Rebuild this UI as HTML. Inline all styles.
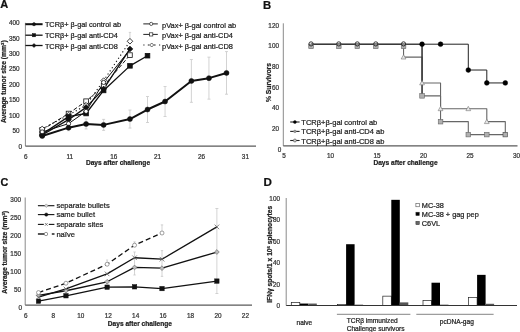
<!DOCTYPE html>
<html><head><meta charset="utf-8"><style>
html,body{margin:0;padding:0;background:#fff;width:520px;height:332px;overflow:hidden}
svg{display:block}
text{font-family:"Liberation Sans",sans-serif;stroke:currentColor;stroke-width:0.22px}
svg{filter:blur(0.35px)}
</style></head><body>
<svg width="520" height="332" viewBox="0 0 520 332">
<rect width="520" height="332" fill="#fff"/>
<text x="0.2" y="8.2" font-size="11.0" text-anchor="start" font-weight="bold" fill="#111" color="#111">A</text>
<line x1="25.4" y1="22.8" x2="25.4" y2="146.1" stroke="#8a8a8a" stroke-width="1"/>
<line x1="25.4" y1="146.1" x2="256" y2="146.1" stroke="#5a5a5a" stroke-width="1.1"/>
<text x="22" y="149.26" font-size="6.4" text-anchor="end" fill="#333" color="#333">0</text>
<text x="19.6" y="132.89" font-size="6.4" text-anchor="end" fill="#333" color="#333">50</text>
<text x="19.6" y="117.51" font-size="6.4" text-anchor="end" fill="#333" color="#333">100</text>
<text x="19.6" y="102.14" font-size="6.4" text-anchor="end" fill="#333" color="#333">150</text>
<text x="19.6" y="86.76" font-size="6.4" text-anchor="end" fill="#333" color="#333">200</text>
<text x="19.6" y="71.39" font-size="6.4" text-anchor="end" fill="#333" color="#333">250</text>
<text x="19.6" y="56.01" font-size="6.4" text-anchor="end" fill="#333" color="#333">300</text>
<text x="19.6" y="40.64" font-size="6.4" text-anchor="end" fill="#333" color="#333">350</text>
<text x="19.6" y="25.26" font-size="6.4" text-anchor="end" fill="#333" color="#333">400</text>
<text x="25.9" y="159.26" font-size="6.4" text-anchor="middle" fill="#333" color="#333">6</text>
<text x="69.8" y="159.26" font-size="6.4" text-anchor="middle" fill="#333" color="#333">11</text>
<text x="113.7" y="159.26" font-size="6.4" text-anchor="middle" fill="#333" color="#333">16</text>
<text x="157.6" y="159.26" font-size="6.4" text-anchor="middle" fill="#333" color="#333">21</text>
<text x="201.5" y="159.26" font-size="6.4" text-anchor="middle" fill="#333" color="#333">26</text>
<text x="245.4" y="159.26" font-size="6.4" text-anchor="middle" fill="#333" color="#333">31</text>
<text x="118" y="164.9" font-size="6.6" text-anchor="middle" font-weight="bold" fill="#222" color="#222">Days after challenge</text>
<text x="0" y="0" font-size="6.75" font-weight="bold" text-anchor="middle" fill="#222" color="#222" transform="translate(5.7,81.7) rotate(-90)">Average tumor size (mm<tspan font-size="4.2" dy="-2.2">3</tspan><tspan dy="2.2">)</tspan></text>
<line x1="68.53" y1="124.66" x2="68.53" y2="130.66" stroke="#c8c8c8" stroke-width="0.8"/>
<line x1="67.03" y1="124.66" x2="70.03" y2="124.66" stroke="#c8c8c8" stroke-width="0.8"/>
<line x1="67.03" y1="130.66" x2="70.03" y2="130.66" stroke="#c8c8c8" stroke-width="0.8"/>
<line x1="86.08" y1="118.97" x2="86.08" y2="128.97" stroke="#c8c8c8" stroke-width="0.8"/>
<line x1="84.58" y1="118.97" x2="87.58" y2="118.97" stroke="#c8c8c8" stroke-width="0.8"/>
<line x1="84.58" y1="128.97" x2="87.58" y2="128.97" stroke="#c8c8c8" stroke-width="0.8"/>
<line x1="103.63" y1="119.39" x2="103.63" y2="130.39" stroke="#c8c8c8" stroke-width="0.8"/>
<line x1="102.13" y1="119.39" x2="105.13" y2="119.39" stroke="#c8c8c8" stroke-width="0.8"/>
<line x1="102.13" y1="130.39" x2="105.13" y2="130.39" stroke="#c8c8c8" stroke-width="0.8"/>
<line x1="129.96" y1="110.05" x2="129.96" y2="128.05" stroke="#c8c8c8" stroke-width="0.8"/>
<line x1="128.46" y1="110.05" x2="131.46" y2="110.05" stroke="#c8c8c8" stroke-width="0.8"/>
<line x1="128.46" y1="128.05" x2="131.46" y2="128.05" stroke="#c8c8c8" stroke-width="0.8"/>
<line x1="147.51" y1="96.52" x2="147.51" y2="122.52" stroke="#c8c8c8" stroke-width="0.8"/>
<line x1="146.01" y1="96.52" x2="149.01" y2="96.52" stroke="#c8c8c8" stroke-width="0.8"/>
<line x1="146.01" y1="122.52" x2="149.01" y2="122.52" stroke="#c8c8c8" stroke-width="0.8"/>
<line x1="165.06" y1="86.52" x2="165.06" y2="116.52" stroke="#c8c8c8" stroke-width="0.8"/>
<line x1="163.56" y1="86.52" x2="166.56" y2="86.52" stroke="#c8c8c8" stroke-width="0.8"/>
<line x1="163.56" y1="116.52" x2="166.56" y2="116.52" stroke="#c8c8c8" stroke-width="0.8"/>
<line x1="191.39" y1="59.52" x2="191.39" y2="102.32" stroke="#c8c8c8" stroke-width="0.8"/>
<line x1="189.89" y1="59.52" x2="192.89" y2="59.52" stroke="#c8c8c8" stroke-width="0.8"/>
<line x1="189.89" y1="102.32" x2="192.89" y2="102.32" stroke="#c8c8c8" stroke-width="0.8"/>
<line x1="208.94" y1="57.15" x2="208.94" y2="99.15" stroke="#c8c8c8" stroke-width="0.8"/>
<line x1="207.44" y1="57.15" x2="210.44" y2="57.15" stroke="#c8c8c8" stroke-width="0.8"/>
<line x1="207.44" y1="99.15" x2="210.44" y2="99.15" stroke="#c8c8c8" stroke-width="0.8"/>
<line x1="226.5" y1="51.62" x2="226.5" y2="94.22" stroke="#c8c8c8" stroke-width="0.8"/>
<line x1="225" y1="51.62" x2="228" y2="51.62" stroke="#c8c8c8" stroke-width="0.8"/>
<line x1="225" y1="94.22" x2="228" y2="94.22" stroke="#c8c8c8" stroke-width="0.8"/>
<line x1="129.96" y1="32.4" x2="129.96" y2="41.4" stroke="#c8c8c8" stroke-width="0.8"/>
<line x1="128.76" y1="32.4" x2="131.16" y2="32.4" stroke="#c8c8c8" stroke-width="0.8"/>
<line x1="128.76" y1="41.4" x2="131.16" y2="41.4" stroke="#c8c8c8" stroke-width="0.8"/>
<polyline points="42.2,131.96 68.53,123.66 86.08,111.36 103.63,82.46 129.96,49.55" fill="none" stroke="#111" stroke-width="1.0" stroke-linejoin="round"/>
<polyline points="42.2,129.81 68.53,113.51 86.08,101.21 103.63,85.84 129.96,55.09" fill="none" stroke="#111" stroke-width="1.0" stroke-linejoin="round" stroke-dasharray="4,2.2"/>
<polyline points="42.2,128.89 68.53,115.05 86.08,105.21 103.63,80.61 129.96,41.25" fill="none" stroke="#111" stroke-width="1.1" stroke-linejoin="round" stroke-dasharray="1.2,2.6"/>
<polyline points="42.2,134.12 68.53,116.59 86.08,113.51 103.63,90.45 129.96,65.85 147.51,55.7" fill="none" stroke="#111" stroke-width="1.3" stroke-linejoin="round"/>
<polyline points="42.2,135.04 68.53,119.66 86.08,107.36 103.63,88.91 129.96,48.94" fill="none" stroke="#111" stroke-width="1.3" stroke-linejoin="round"/>
<rect x="39.9" y="127.51" width="4.6" height="4.6" fill="#fff" stroke="#111" stroke-width="0.8"/>
<rect x="66.23" y="111.21" width="4.6" height="4.6" fill="#fff" stroke="#111" stroke-width="0.8"/>
<rect x="83.78" y="98.91" width="4.6" height="4.6" fill="#fff" stroke="#111" stroke-width="0.8"/>
<rect x="101.33" y="83.54" width="4.6" height="4.6" fill="#fff" stroke="#111" stroke-width="0.8"/>
<rect x="127.66" y="52.79" width="4.6" height="4.6" fill="#fff" stroke="#111" stroke-width="0.8"/>
<polygon points="42.2,126.09 45,128.89 42.2,131.69 39.4,128.89" fill="#fff" stroke="#111" stroke-width="0.8"/>
<polygon points="68.53,112.25 71.33,115.05 68.53,117.85 65.73,115.05" fill="#fff" stroke="#111" stroke-width="0.8"/>
<polygon points="86.08,102.41 88.88,105.21 86.08,108.01 83.28,105.21" fill="#fff" stroke="#111" stroke-width="0.8"/>
<polygon points="103.63,77.81 106.43,80.61 103.63,83.41 100.83,80.61" fill="#fff" stroke="#111" stroke-width="0.8"/>
<polygon points="129.96,38.45 132.76,41.25 129.96,44.05 127.16,41.25" fill="#fff" stroke="#111" stroke-width="0.8"/>
<rect x="39.9" y="131.81" width="4.6" height="4.6" fill="#111" stroke="#111" stroke-width="0.8"/>
<rect x="66.23" y="114.29" width="4.6" height="4.6" fill="#111" stroke="#111" stroke-width="0.8"/>
<rect x="83.78" y="111.21" width="4.6" height="4.6" fill="#111" stroke="#111" stroke-width="0.8"/>
<rect x="101.33" y="88.15" width="4.6" height="4.6" fill="#111" stroke="#111" stroke-width="0.8"/>
<rect x="127.66" y="63.55" width="4.6" height="4.6" fill="#111" stroke="#111" stroke-width="0.8"/>
<rect x="145.21" y="53.4" width="4.6" height="4.6" fill="#111" stroke="#111" stroke-width="0.8"/>
<polygon points="42.2,132.24 45,135.04 42.2,137.84 39.4,135.04" fill="#111" stroke="#111" stroke-width="0.8"/>
<polygon points="68.53,116.86 71.33,119.66 68.53,122.46 65.73,119.66" fill="#111" stroke="#111" stroke-width="0.8"/>
<polygon points="86.08,104.56 88.88,107.36 86.08,110.16 83.28,107.36" fill="#111" stroke="#111" stroke-width="0.8"/>
<polygon points="103.63,86.11 106.43,88.91 103.63,91.71 100.83,88.91" fill="#111" stroke="#111" stroke-width="0.8"/>
<polygon points="129.96,46.14 132.76,48.94 129.96,51.74 127.16,48.94" fill="#111" stroke="#111" stroke-width="0.8"/>
<circle cx="42.2" cy="131.96" r="2.1" fill="#fff" stroke="#111" stroke-width="0.8"/>
<circle cx="68.53" cy="123.66" r="2.1" fill="#fff" stroke="#111" stroke-width="0.8"/>
<circle cx="86.08" cy="111.36" r="2.1" fill="#fff" stroke="#111" stroke-width="0.8"/>
<circle cx="103.63" cy="82.46" r="2.1" fill="#fff" stroke="#111" stroke-width="0.8"/>
<polyline points="42.2,135.96 68.53,127.66 86.08,123.97 103.63,124.89 129.96,119.05 147.51,109.52 165.06,101.52 191.39,80.92 208.94,78.15 226.5,72.92" fill="none" stroke="#111" stroke-width="2.0" stroke-linejoin="round"/>
<circle cx="42.2" cy="135.96" r="2.5" fill="#111" stroke="#111" stroke-width="0.5"/>
<circle cx="68.53" cy="127.66" r="2.5" fill="#111" stroke="#111" stroke-width="0.5"/>
<circle cx="86.08" cy="123.97" r="2.5" fill="#111" stroke="#111" stroke-width="0.5"/>
<circle cx="103.63" cy="124.89" r="2.5" fill="#111" stroke="#111" stroke-width="0.5"/>
<circle cx="129.96" cy="119.05" r="2.5" fill="#111" stroke="#111" stroke-width="0.5"/>
<circle cx="147.51" cy="109.52" r="2.5" fill="#111" stroke="#111" stroke-width="0.5"/>
<circle cx="165.06" cy="101.52" r="2.5" fill="#111" stroke="#111" stroke-width="0.5"/>
<circle cx="191.39" cy="80.92" r="2.5" fill="#111" stroke="#111" stroke-width="0.5"/>
<circle cx="208.94" cy="78.15" r="2.5" fill="#111" stroke="#111" stroke-width="0.5"/>
<circle cx="226.5" cy="72.92" r="2.5" fill="#111" stroke="#111" stroke-width="0.5"/>
<line x1="25.4" y1="24.2" x2="42.6" y2="24.2" stroke="#111" stroke-width="2.0"/>
<circle cx="34" cy="24.2" r="1.6" fill="#111" stroke="#111" stroke-width="0.5"/>
<text x="44.9" y="27.48" font-size="7.33" text-anchor="start" fill="#222" color="#222">TCRβ+ β-gal control ab</text>
<line x1="25.4" y1="35.2" x2="42.6" y2="35.2" stroke="#111" stroke-width="1.3"/>
<rect x="32.4" y="33.6" width="3.2" height="3.2" fill="#111" stroke="#111" stroke-width="0.5"/>
<text x="44.9" y="38.48" font-size="7.33" text-anchor="start" fill="#222" color="#222">TCRβ+ β-gal anti-CD4</text>
<line x1="25.4" y1="45.5" x2="42.6" y2="45.5" stroke="#111" stroke-width="1.3"/>
<polygon points="34,43.5 36,45.5 34,47.5 32,45.5" fill="#111" stroke="#111" stroke-width="0.5"/>
<text x="44.9" y="48.78" font-size="7.33" text-anchor="start" fill="#222" color="#222">TCRβ+ β-gal anti-CD8</text>
<line x1="143.3" y1="23.9" x2="157.8" y2="23.9" stroke="#222" stroke-width="1.0"/>
<circle cx="151.2" cy="23.9" r="1.6" fill="#fff" stroke="#222" stroke-width="0.7"/>
<text x="162" y="27.53" font-size="7.45" text-anchor="start" fill="#222" color="#222">pVax+ β-gal control ab</text>
<line x1="143.3" y1="34.4" x2="157.8" y2="34.4" stroke="#222" stroke-width="1.0"/>
<rect x="149.6" y="32.8" width="3.2" height="3.2" fill="#fff" stroke="#222" stroke-width="0.7"/>
<text x="162" y="38.03" font-size="7.45" text-anchor="start" fill="#222" color="#222">pVax+ β-gal anti-CD4</text>
<line x1="143.3" y1="45" x2="144.5" y2="45" stroke="#222" stroke-width="1.0"/>
<line x1="147.8" y1="45" x2="149.4" y2="45" stroke="#222" stroke-width="1.0"/>
<line x1="154" y1="45" x2="155.6" y2="45" stroke="#222" stroke-width="1.0"/>
<line x1="159" y1="45" x2="160.2" y2="45" stroke="#222" stroke-width="1.0"/>
<polygon points="151.7,43 153.7,45 151.7,47 149.7,45" fill="#fff" stroke="#222" stroke-width="0.7"/>
<text x="162" y="48.63" font-size="7.45" text-anchor="start" fill="#222" color="#222">pVax+ β-gal anti-CD8</text>
<text x="262.9" y="8.7" font-size="11.3" text-anchor="start" font-weight="bold" fill="#111" color="#111">B</text>
<line x1="283.3" y1="23.3" x2="283.3" y2="145.9" stroke="#8a8a8a" stroke-width="1"/>
<line x1="283.3" y1="145.9" x2="517.5" y2="145.9" stroke="#5a5a5a" stroke-width="1.1"/>
<text x="281.4" y="151.76" font-size="6.4" text-anchor="end" fill="#333" color="#333">0</text>
<text x="279" y="131.1" font-size="6.4" text-anchor="end" fill="#333" color="#333">20</text>
<text x="279" y="110.44" font-size="6.4" text-anchor="end" fill="#333" color="#333">40</text>
<text x="279" y="89.78" font-size="6.4" text-anchor="end" fill="#333" color="#333">60</text>
<text x="279" y="69.12" font-size="6.4" text-anchor="end" fill="#333" color="#333">80</text>
<text x="279" y="48.46" font-size="6.4" text-anchor="end" fill="#333" color="#333">100</text>
<text x="279" y="27.8" font-size="6.4" text-anchor="end" fill="#333" color="#333">120</text>
<text x="284" y="158.26" font-size="6.4" text-anchor="middle" fill="#333" color="#333">5</text>
<text x="330.5" y="158.26" font-size="6.4" text-anchor="middle" fill="#333" color="#333">10</text>
<text x="377" y="158.26" font-size="6.4" text-anchor="middle" fill="#333" color="#333">15</text>
<text x="423.5" y="158.26" font-size="6.4" text-anchor="middle" fill="#333" color="#333">20</text>
<text x="470" y="158.26" font-size="6.4" text-anchor="middle" fill="#333" color="#333">25</text>
<text x="516.5" y="158.26" font-size="6.4" text-anchor="middle" fill="#333" color="#333">30</text>
<text x="405.5" y="164.9" font-size="6.6" text-anchor="middle" font-weight="bold" fill="#222" color="#222">Days after challenge</text>
<text x="0" y="0" font-size="6.75" font-weight="bold" text-anchor="middle" fill="#222" color="#222" transform="translate(271.3,82.5) rotate(-90)">% Survivors</text>
<polyline points="311.05,44.2 338.8,44.2 338.8,44.2 357.3,44.2 357.3,44.2 375.8,44.2 375.8,44.2 403.55,44.2 403.55,44.2 422.05,44.2 422.05,95.85 440.55,95.85 440.55,121.67 468.3,121.67 468.3,134.59 486.8,134.59 486.8,134.59 505.3,134.59 505.3,134.59" fill="none" stroke="#666" stroke-width="1.1" stroke-linejoin="round"/>
<polyline points="311.05,44.2 338.8,44.2 338.8,44.2 357.3,44.2 357.3,44.2 375.8,44.2 375.8,44.2 403.55,44.2 403.55,57.11 422.05,57.11 422.05,82.94 440.55,82.94 440.55,108.76 468.3,108.76 468.3,108.76 486.8,108.76 486.8,121.67 505.3,121.67 505.3,134.59" fill="none" stroke="#666" stroke-width="1.1" stroke-linejoin="round"/>
<line x1="422.05" y1="44.2" x2="422.05" y2="95.85" stroke="#222" stroke-width="1.1"/>
<polyline points="311.05,44.2 338.8,44.2 338.8,44.2 357.3,44.2 357.3,44.2 375.8,44.2 375.8,44.2 403.55,44.2 403.55,44.2 422.05,44.2 422.05,44.2 440.55,44.2 440.55,44.2 468.3,44.2 468.3,70.03 486.8,70.03 486.8,82.94 505.3,82.94 505.3,82.94" fill="none" stroke="#222" stroke-width="1.0" stroke-linejoin="round"/>
<polygon points="403.55,54.71 405.95,59.03 401.15,59.03" fill="#e8e8e8" stroke="#777" stroke-width="0.6"/>
<polygon points="422.05,80.54 424.45,84.86 419.65,84.86" fill="#e8e8e8" stroke="#777" stroke-width="0.6"/>
<polygon points="440.55,106.36 442.95,110.68 438.15,110.68" fill="#e8e8e8" stroke="#777" stroke-width="0.6"/>
<polygon points="468.3,106.36 470.7,110.68 465.9,110.68" fill="#e8e8e8" stroke="#777" stroke-width="0.6"/>
<polygon points="486.8,119.27 489.2,123.59 484.4,123.59" fill="#e8e8e8" stroke="#777" stroke-width="0.6"/>
<rect x="308.75" y="44.1" width="4.6" height="4.6" fill="#b0b0b0" stroke="#666" stroke-width="0.6"/>
<rect x="336.5" y="44.1" width="4.6" height="4.6" fill="#b0b0b0" stroke="#666" stroke-width="0.6"/>
<rect x="355" y="44.1" width="4.6" height="4.6" fill="#b0b0b0" stroke="#666" stroke-width="0.6"/>
<rect x="373.5" y="44.1" width="4.6" height="4.6" fill="#b0b0b0" stroke="#666" stroke-width="0.6"/>
<rect x="401.25" y="44.1" width="4.6" height="4.6" fill="#b0b0b0" stroke="#666" stroke-width="0.6"/>
<rect x="419.75" y="93.55" width="4.6" height="4.6" fill="#b0b0b0" stroke="#666" stroke-width="0.6"/>
<rect x="438.25" y="119.38" width="4.6" height="4.6" fill="#b0b0b0" stroke="#666" stroke-width="0.6"/>
<rect x="466" y="132.29" width="4.6" height="4.6" fill="#b0b0b0" stroke="#666" stroke-width="0.6"/>
<rect x="484.5" y="132.29" width="4.6" height="4.6" fill="#b0b0b0" stroke="#666" stroke-width="0.6"/>
<rect x="503" y="132.29" width="4.6" height="4.6" fill="#b0b0b0" stroke="#444" stroke-width="0.6"/>
<circle cx="311.05" cy="43.9" r="2.1" fill="none" stroke="#222" stroke-width="0.9"/>
<circle cx="338.8" cy="43.9" r="2.1" fill="none" stroke="#222" stroke-width="0.9"/>
<circle cx="357.3" cy="43.9" r="2.1" fill="none" stroke="#222" stroke-width="0.9"/>
<circle cx="375.8" cy="43.9" r="2.1" fill="none" stroke="#222" stroke-width="0.9"/>
<circle cx="403.55" cy="43.9" r="2.1" fill="none" stroke="#222" stroke-width="0.9"/>
<circle cx="422.05" cy="44.2" r="2.4" fill="#000" stroke="#000" stroke-width="0.5"/>
<circle cx="440.55" cy="44.2" r="2.4" fill="#000" stroke="#000" stroke-width="0.5"/>
<circle cx="468.3" cy="70.03" r="2.4" fill="#000" stroke="#000" stroke-width="0.5"/>
<circle cx="486.8" cy="82.94" r="2.4" fill="#000" stroke="#000" stroke-width="0.5"/>
<circle cx="505.3" cy="82.94" r="2.4" fill="#000" stroke="#000" stroke-width="0.5"/>
<line x1="290.2" y1="122" x2="299.6" y2="122" stroke="#222" stroke-width="1.1"/>
<circle cx="294.9" cy="122" r="1.5" fill="#000" stroke="#000" stroke-width="0.4"/>
<text x="301.3" y="125.05" font-size="7.5" text-anchor="start" fill="#222" color="#222">TCRβ+β-gal control ab</text>
<line x1="290.2" y1="131.4" x2="299.6" y2="131.4" stroke="#222" stroke-width="1.1"/>
<circle cx="294.9" cy="131.4" r="1.3" fill="#999" stroke="#777" stroke-width="0.5"/>
<text x="301.3" y="134.45" font-size="7.5" text-anchor="start" fill="#222" color="#222">TCRβ+β-gal anti-CD4 ab</text>
<line x1="290.2" y1="140.5" x2="299.6" y2="140.5" stroke="#222" stroke-width="1.1"/>
<circle cx="294.9" cy="140.5" r="1.5" fill="#ccc" stroke="#444" stroke-width="0.6"/>
<text x="301.3" y="143.55" font-size="7.5" text-anchor="start" fill="#222" color="#222">TCRβ+β-gal anti-CD8 ab</text>
<text x="0.6" y="186" font-size="10.8" text-anchor="start" font-weight="bold" fill="#111" color="#111">C</text>
<line x1="25.2" y1="197.5" x2="25.2" y2="305.1" stroke="#8a8a8a" stroke-width="1"/>
<line x1="25.2" y1="305.1" x2="252" y2="305.1" stroke="#5a5a5a" stroke-width="1.1"/>
<text x="22" y="309.96" font-size="6.4" text-anchor="end" fill="#333" color="#333">0</text>
<text x="21" y="292.03" font-size="6.4" text-anchor="end" fill="#333" color="#333">50</text>
<text x="21" y="274.09" font-size="6.4" text-anchor="end" fill="#333" color="#333">100</text>
<text x="21" y="256.16" font-size="6.4" text-anchor="end" fill="#333" color="#333">150</text>
<text x="21" y="238.22" font-size="6.4" text-anchor="end" fill="#333" color="#333">200</text>
<text x="21" y="220.29" font-size="6.4" text-anchor="end" fill="#333" color="#333">250</text>
<text x="21" y="202.35" font-size="6.4" text-anchor="end" fill="#333" color="#333">300</text>
<text x="25.9" y="318.06" font-size="6.4" text-anchor="middle" fill="#333" color="#333">6</text>
<text x="53.34" y="318.06" font-size="6.4" text-anchor="middle" fill="#333" color="#333">8</text>
<text x="80.78" y="318.06" font-size="6.4" text-anchor="middle" fill="#333" color="#333">10</text>
<text x="108.22" y="318.06" font-size="6.4" text-anchor="middle" fill="#333" color="#333">12</text>
<text x="135.66" y="318.06" font-size="6.4" text-anchor="middle" fill="#333" color="#333">14</text>
<text x="163.1" y="318.06" font-size="6.4" text-anchor="middle" fill="#333" color="#333">16</text>
<text x="190.54" y="318.06" font-size="6.4" text-anchor="middle" fill="#333" color="#333">18</text>
<text x="217.98" y="318.06" font-size="6.4" text-anchor="middle" fill="#333" color="#333">20</text>
<text x="245.42" y="318.06" font-size="6.4" text-anchor="middle" fill="#333" color="#333">22</text>
<text x="139.9" y="326.3" font-size="6.6" text-anchor="middle" font-weight="bold" fill="#222" color="#222">Days after challenge</text>
<text x="0" y="0" font-size="6.75" font-weight="bold" text-anchor="middle" fill="#222" color="#222" transform="translate(6.7,252.3) rotate(-90)">Average tumor size (mm<tspan font-size="4.2" dy="-2.2">3</tspan><tspan dy="2.2">)</tspan></text>
<line x1="216.88" y1="208.5" x2="216.88" y2="293.5" stroke="#c8c8c8" stroke-width="0.8"/>
<line x1="215.38" y1="208.5" x2="218.38" y2="208.5" stroke="#c8c8c8" stroke-width="0.8"/>
<line x1="215.38" y1="293.5" x2="218.38" y2="293.5" stroke="#c8c8c8" stroke-width="0.8"/>
<line x1="162" y1="224.9" x2="162" y2="232.5" stroke="#c8c8c8" stroke-width="0.8"/>
<line x1="160.8" y1="224.9" x2="163.2" y2="224.9" stroke="#c8c8c8" stroke-width="0.8"/>
<line x1="160.8" y1="232.5" x2="163.2" y2="232.5" stroke="#c8c8c8" stroke-width="0.8"/>
<line x1="134.56" y1="241.9" x2="134.56" y2="245.7" stroke="#c8c8c8" stroke-width="0.8"/>
<line x1="133.36" y1="241.9" x2="135.76" y2="241.9" stroke="#c8c8c8" stroke-width="0.8"/>
<line x1="133.36" y1="245.7" x2="135.76" y2="245.7" stroke="#c8c8c8" stroke-width="0.8"/>
<line x1="134.56" y1="252" x2="134.56" y2="275" stroke="#c8c8c8" stroke-width="0.8"/>
<line x1="133.36" y1="252" x2="135.76" y2="252" stroke="#c8c8c8" stroke-width="0.8"/>
<line x1="133.36" y1="275" x2="135.76" y2="275" stroke="#c8c8c8" stroke-width="0.8"/>
<line x1="162" y1="250.6" x2="162" y2="276.4" stroke="#c8c8c8" stroke-width="0.8"/>
<line x1="160.8" y1="250.6" x2="163.2" y2="250.6" stroke="#c8c8c8" stroke-width="0.8"/>
<line x1="160.8" y1="276.4" x2="163.2" y2="276.4" stroke="#c8c8c8" stroke-width="0.8"/>
<line x1="107.12" y1="260" x2="107.12" y2="264" stroke="#c8c8c8" stroke-width="0.8"/>
<line x1="106.12" y1="260" x2="108.12" y2="260" stroke="#c8c8c8" stroke-width="0.8"/>
<line x1="106.12" y1="264" x2="108.12" y2="264" stroke="#c8c8c8" stroke-width="0.8"/>
<polyline points="38.52,292.55 65.96,283.22 107.12,264.21 134.56,245.2 162,233" fill="none" stroke="#111" stroke-width="1.3" stroke-linejoin="round" stroke-dasharray="5,3"/>
<polyline points="38.52,295.42 65.96,290.75 107.12,281.78 134.56,267.44 162,268.15 216.88,252.01" fill="none" stroke="#111" stroke-width="1.3" stroke-linejoin="round"/>
<polyline points="38.52,301.15 65.96,295.77 107.12,287.17 134.56,286.81 162,288.6 216.88,281.07" fill="none" stroke="#111" stroke-width="1.3" stroke-linejoin="round"/>
<polyline points="38.52,297.21 65.96,288.96 107.12,273.89 134.56,257.75 162,259.19 216.88,226.9" fill="none" stroke="#111" stroke-width="1.3" stroke-linejoin="round"/>
<polygon points="38.52,293.02 40.92,295.42 38.52,297.82 36.12,295.42" fill="#bbb" stroke="#666" stroke-width="0.6"/>
<polygon points="65.96,288.35 68.36,290.75 65.96,293.15 63.56,290.75" fill="#bbb" stroke="#666" stroke-width="0.6"/>
<polygon points="107.12,279.38 109.52,281.78 107.12,284.18 104.72,281.78" fill="#bbb" stroke="#666" stroke-width="0.6"/>
<polygon points="134.56,265.04 136.96,267.44 134.56,269.84 132.16,267.44" fill="#bbb" stroke="#666" stroke-width="0.6"/>
<polygon points="162,265.75 164.4,268.15 162,270.55 159.6,268.15" fill="#bbb" stroke="#666" stroke-width="0.6"/>
<polygon points="216.88,249.61 219.28,252.01 216.88,254.41 214.48,252.01" fill="#bbb" stroke="#666" stroke-width="0.6"/>
<rect x="36.32" y="298.95" width="4.4" height="4.4" fill="#111" stroke="#111" stroke-width="0.5"/>
<rect x="63.76" y="293.57" width="4.4" height="4.4" fill="#111" stroke="#111" stroke-width="0.5"/>
<rect x="104.92" y="284.97" width="4.4" height="4.4" fill="#111" stroke="#111" stroke-width="0.5"/>
<rect x="132.36" y="284.61" width="4.4" height="4.4" fill="#111" stroke="#111" stroke-width="0.5"/>
<rect x="159.8" y="286.4" width="4.4" height="4.4" fill="#111" stroke="#111" stroke-width="0.5"/>
<rect x="214.68" y="278.87" width="4.4" height="4.4" fill="#111" stroke="#111" stroke-width="0.5"/>
<path d="M36.22,294.91L40.82,299.51M36.22,299.51L40.82,294.91" stroke="#666" stroke-width="0.8"/>
<path d="M63.66,286.66L68.26,291.26M63.66,291.26L68.26,286.66" stroke="#666" stroke-width="0.8"/>
<path d="M104.82,271.59L109.42,276.19M104.82,276.19L109.42,271.59" stroke="#666" stroke-width="0.8"/>
<path d="M132.26,255.45L136.86,260.05M132.26,260.05L136.86,255.45" stroke="#666" stroke-width="0.8"/>
<path d="M159.7,256.89L164.3,261.49M159.7,261.49L164.3,256.89" stroke="#666" stroke-width="0.8"/>
<path d="M214.58,224.6L219.18,229.2M214.58,229.2L219.18,224.6" stroke="#666" stroke-width="0.8"/>
<circle cx="38.52" cy="292.55" r="2" fill="#fff" stroke="#777" stroke-width="0.7"/>
<circle cx="65.96" cy="283.22" r="2" fill="#fff" stroke="#777" stroke-width="0.7"/>
<circle cx="107.12" cy="264.21" r="2" fill="#fff" stroke="#777" stroke-width="0.7"/>
<circle cx="134.56" cy="245.2" r="2" fill="#fff" stroke="#777" stroke-width="0.7"/>
<circle cx="162" cy="233" r="2" fill="#fff" stroke="#777" stroke-width="0.7"/>
<line x1="37.9" y1="205.7" x2="54.4" y2="205.7" stroke="#111" stroke-width="1.1"/>
<polygon points="46.3,203.9 48.1,205.7 46.3,207.5 44.5,205.7" fill="#ddd" stroke="#777" stroke-width="0.5"/>
<text x="56.4" y="208.27" font-size="7.55" text-anchor="start" fill="#222" color="#222">separate bullets</text>
<line x1="37.9" y1="214.6" x2="54.4" y2="214.6" stroke="#111" stroke-width="1.1"/>
<circle cx="46.3" cy="214.6" r="1.7" fill="#111" stroke="#111" stroke-width="0.4"/>
<text x="56.4" y="217.17" font-size="7.55" text-anchor="start" fill="#222" color="#222">same bullet</text>
<line x1="37.9" y1="224.4" x2="43.8" y2="224.4" stroke="#111" stroke-width="1.1"/>
<line x1="48.8" y1="224.4" x2="54.4" y2="224.4" stroke="#111" stroke-width="1.1"/>
<path d="M44.9,223L47.7,225.8M44.9,225.8L47.7,223" stroke="#555" stroke-width="0.7"/>
<text x="56.4" y="226.97" font-size="7.55" text-anchor="start" fill="#222" color="#222">separate sites</text>
<line x1="37.9" y1="234" x2="44.5" y2="234" stroke="#111" stroke-width="1.4"/>
<line x1="51.8" y1="234" x2="54.5" y2="234" stroke="#111" stroke-width="1.4"/>
<circle cx="46" cy="234" r="1.7" fill="#fff" stroke="#555" stroke-width="0.6"/>
<text x="56.4" y="236.57" font-size="7.55" text-anchor="start" fill="#222" color="#222">naïve</text>
<text x="263.4" y="186" font-size="11.6" text-anchor="start" font-weight="bold" fill="#111" color="#111">D</text>
<line x1="286.2" y1="198" x2="286.2" y2="305.5" stroke="#8a8a8a" stroke-width="1"/>
<text x="280" y="308.06" font-size="6.4" text-anchor="end" fill="#333" color="#333">0</text>
<text x="280" y="286.56" font-size="6.4" text-anchor="end" fill="#333" color="#333">20</text>
<text x="280" y="265.06" font-size="6.4" text-anchor="end" fill="#333" color="#333">40</text>
<text x="280" y="243.56" font-size="6.4" text-anchor="end" fill="#333" color="#333">60</text>
<text x="280" y="222.06" font-size="6.4" text-anchor="end" fill="#333" color="#333">80</text>
<text x="280" y="200.56" font-size="6.4" text-anchor="end" fill="#333" color="#333">100</text>
<text x="0" y="0" font-size="6.65" font-weight="bold" text-anchor="middle" fill="#222" color="#222" transform="translate(272.36,254.3) rotate(-90)">IFNγ spots/1 x 10<tspan font-size="4.2" dy="-2.2">6</tspan><tspan dy="2.2"> splenocytes</tspan></text>
<rect x="291.3" y="302.38" width="8.5" height="3.12" fill="#fff" stroke="#222" stroke-width="0.7"/>
<rect x="299.8" y="303.56" width="8.5" height="1.94" fill="#000"/>
<rect x="308.3" y="303.56" width="8.5" height="1.94" fill="#555"/>
<rect x="337.6" y="304.64" width="8.5" height="0.86" fill="#fff" stroke="#222" stroke-width="0.7"/>
<rect x="346.1" y="244.22" width="8.5" height="61.27" fill="#000"/>
<rect x="354.6" y="304.64" width="8.5" height="0.86" fill="#555"/>
<rect x="382.8" y="296.15" width="8.5" height="9.35" fill="#fff" stroke="#222" stroke-width="0.7"/>
<rect x="391.3" y="199.83" width="8.5" height="105.67" fill="#000"/>
<rect x="399.8" y="302.38" width="8.5" height="3.12" fill="#555"/>
<rect x="423" y="300.56" width="8.5" height="4.94" fill="#fff" stroke="#222" stroke-width="0.7"/>
<rect x="431.5" y="282.71" width="8.5" height="22.79" fill="#000"/>
<rect x="440" y="304.64" width="8.5" height="0.86" fill="#555"/>
<rect x="468.6" y="297.55" width="8.5" height="7.96" fill="#fff" stroke="#222" stroke-width="0.7"/>
<rect x="477.1" y="274.86" width="8.5" height="30.64" fill="#000"/>
<rect x="485.6" y="303.78" width="8.5" height="1.72" fill="#555"/>
<line x1="286.2" y1="305.5" x2="517" y2="305.5" stroke="#333" stroke-width="1.1"/>
<rect x="415.9" y="203.4" width="3.4" height="3.4" fill="#fff" stroke="#333" stroke-width="0.5"/>
<text x="421.8" y="208.39" font-size="7.35" text-anchor="start" fill="#222" color="#222">MC-38</text>
<rect x="415.9" y="212.2" width="3.4" height="3.4" fill="#000" stroke="#333" stroke-width="0.5"/>
<text x="421.8" y="217.19" font-size="7.35" text-anchor="start" fill="#222" color="#222">MC-38 + gag pep</text>
<rect x="415.9" y="221.3" width="3.4" height="3.4" fill="#666" stroke="#333" stroke-width="0.5"/>
<text x="421.8" y="226.29" font-size="7.35" text-anchor="start" fill="#222" color="#222">C6VL</text>
<text x="304.4" y="324.55" font-size="6.6" text-anchor="middle" fill="#222" color="#222">naive</text>
<line x1="336.9" y1="314.3" x2="410.4" y2="314.3" stroke="#777" stroke-width="0.9"/>
<line x1="416.3" y1="314.3" x2="493.6" y2="314.3" stroke="#777" stroke-width="0.9"/>
<text x="372.2" y="322.75" font-size="6.6" text-anchor="middle" fill="#222" color="#222">TCRβ immunized</text>
<text x="375.6" y="330.85" font-size="6.6" text-anchor="middle" fill="#222" color="#222">Challenge survivors</text>
<text x="456.8" y="324.15" font-size="6.6" text-anchor="middle" fill="#222" color="#222">pcDNA-gag</text>
</svg>
</body></html>
